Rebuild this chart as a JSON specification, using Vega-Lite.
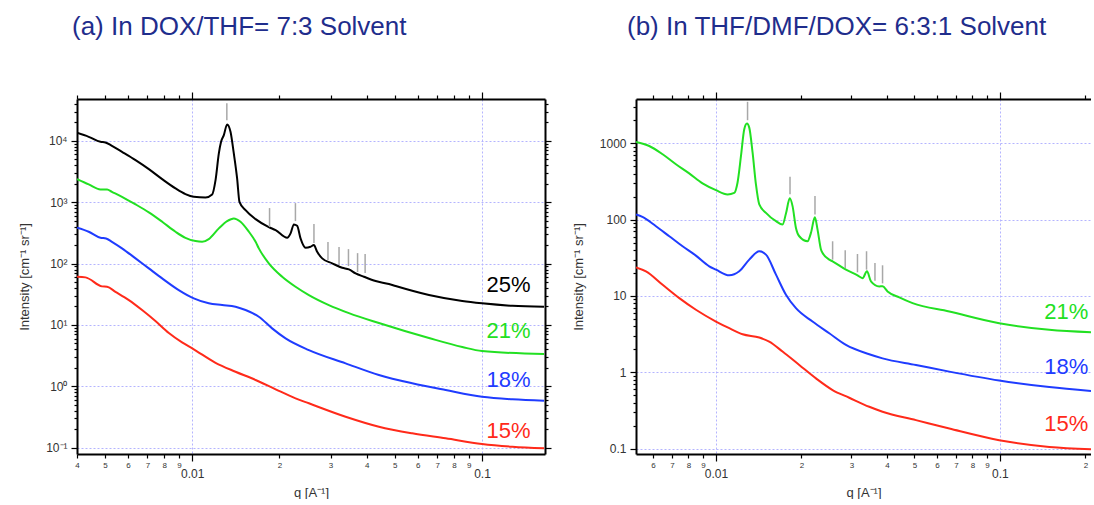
{
  "$schema": "https://vega.github.io/schema/vega-lite/v6.json",
  "background": "white",
  "padding": {"left": 18, "top": 14, "right": 0, "bottom": 0},
  "spacing": 20,
  "config": {
    "view": {"stroke": null},
    "font": "Liberation Sans",
    "axis": {"domainColor": "#000", "domainWidth": 2, "tickColor": "#000", "tickWidth": 1.2, "labelColor": "#333", "labelFont": "Liberation Sans", "titleFont": "Liberation Sans", "titleFontWeight": "normal", "titleColor": "#333", "labelOverlap": false, "labelFlush": false, "labelBound": false, "gridDash": [2, 2], "gridColor": "#b4b4ff", "gridWidth": 1}
  },
  "datasets": {
    "a": [
      {"q": 0.004, "I": 13500, "s": "25%"}, {"q": 0.00439, "I": 11620, "s": "25%"}, {"q": 0.00482, "I": 9630, "s": "25%"}, {"q": 0.00501, "I": 9420, "s": "25%"}, {"q": 0.00528, "I": 8290, "s": "25%"}, {"q": 0.00572, "I": 6620, "s": "25%"}, {"q": 0.00637, "I": 4850, "s": "25%"}, {"q": 0.00708, "I": 3460, "s": "25%"}, {"q": 0.00787, "I": 2378, "s": "25%"}, {"q": 0.00875, "I": 1678, "s": "25%"}, {"q": 0.00947, "I": 1355, "s": "25%"}, {"q": 0.01012, "I": 1225, "s": "25%"}, {"q": 0.01111, "I": 1197, "s": "25%"}, {"q": 0.01171, "I": 1340, "s": "25%"}, {"q": 0.01203, "I": 2291, "s": "25%"}, {"q": 0.01235, "I": 6235, "s": "25%"}, {"q": 0.01257, "I": 9630, "s": "25%"}, {"q": 0.01285, "I": 12380, "s": "25%"}, {"q": 0.01319, "I": 18500, "s": "25%"}, {"q": 0.01355, "I": 14020, "s": "25%"}, {"q": 0.01391, "I": 6235, "s": "25%"}, {"q": 0.01428, "I": 2441, "s": "25%"}, {"q": 0.01455, "I": 1015, "s": "25%"}, {"q": 0.01527, "I": 743, "s": "25%"}, {"q": 0.01654, "I": 530, "s": "25%"}, {"q": 0.01837, "I": 393, "s": "25%"}, {"q": 0.01939, "I": 351, "s": "25%"}, {"q": 0.02126, "I": 263, "s": "25%"}, {"q": 0.02184, "I": 310, "s": "25%"}, {"q": 0.02242, "I": 435, "s": "25%"}, {"q": 0.02301, "I": 413, "s": "25%"}, {"q": 0.02364, "I": 257, "s": "25%"}, {"q": 0.0246, "I": 181, "s": "25%"}, {"q": 0.0256, "I": 188, "s": "25%"}, {"q": 0.02628, "I": 200, "s": "25%"}, {"q": 0.02698, "I": 156, "s": "25%"}, {"q": 0.02808, "I": 121.5, "s": "25%"}, {"q": 0.03041, "I": 100.8, "s": "25%"}, {"q": 0.03292, "I": 85.4, "s": "25%"}, {"q": 0.03473, "I": 80.4, "s": "25%"}, {"q": 0.03662, "I": 69.2, "s": "25%"}, {"q": 0.03912, "I": 61.0, "s": "25%"}, {"q": 0.04294, "I": 51.9, "s": "25%"}, {"q": 0.04773, "I": 46.4, "s": "25%"}, {"q": 0.05034, "I": 43.0, "s": "25%"}, {"q": 0.0656, "I": 30.7, "s": "25%"}, {"q": 0.0855, "I": 24.5, "s": "25%"}, {"q": 0.1, "I": 22.5, "s": "25%"}, {"q": 0.1273, "I": 20.5, "s": "25%"}, {"q": 0.1637, "I": 19.8, "s": "25%"},
      {"q": 0.004, "I": 2378, "s": "21%"}, {"q": 0.00439, "I": 1949, "s": "21%"}, {"q": 0.00482, "I": 1616, "s": "21%"}, {"q": 0.00508, "I": 1616, "s": "21%"}, {"q": 0.00528, "I": 1477, "s": "21%"}, {"q": 0.00572, "I": 1225, "s": "21%"}, {"q": 0.00637, "I": 921, "s": "21%"}, {"q": 0.00708, "I": 682, "s": "21%"}, {"q": 0.00787, "I": 480, "s": "21%"}, {"q": 0.00875, "I": 330, "s": "21%"}, {"q": 0.00947, "I": 263, "s": "21%"}, {"q": 0.01026, "I": 232.5, "s": "21%"}, {"q": 0.01081, "I": 226.5, "s": "21%"}, {"q": 0.0114, "I": 250.6, "s": "21%"}, {"q": 0.01235, "I": 374.5, "s": "21%"}, {"q": 0.01319, "I": 492, "s": "21%"}, {"q": 0.01391, "I": 545, "s": "21%"}, {"q": 0.01467, "I": 480, "s": "21%"}, {"q": 0.01568, "I": 330, "s": "21%"}, {"q": 0.01654, "I": 226.5, "s": "21%"}, {"q": 0.01697, "I": 177, "s": "21%"}, {"q": 0.01837, "I": 100.8, "s": "21%"}, {"q": 0.02043, "I": 61.0, "s": "21%"}, {"q": 0.02272, "I": 41.9, "s": "21%"}, {"q": 0.02526, "I": 30.7, "s": "21%"}, {"q": 0.0296, "I": 21.1, "s": "21%"}, {"q": 0.03473, "I": 15.6, "s": "21%"}, {"q": 0.04407, "I": 10.74, "s": "21%"}, {"q": 0.0656, "I": 6.12, "s": "21%"}, {"q": 0.0855, "I": 4.37, "s": "21%"}, {"q": 0.1, "I": 3.76, "s": "21%"}, {"q": 0.1637, "I": 3.36, "s": "21%"},
      {"q": 0.004, "I": 383, "s": "18%"}, {"q": 0.00439, "I": 330, "s": "18%"}, {"q": 0.00482, "I": 263, "s": "18%"}, {"q": 0.00504, "I": 257, "s": "18%"}, {"q": 0.00528, "I": 226.5, "s": "18%"}, {"q": 0.00572, "I": 177, "s": "18%"}, {"q": 0.00637, "I": 121.5, "s": "18%"}, {"q": 0.00708, "I": 83.5, "s": "18%"}, {"q": 0.00787, "I": 57.4, "s": "18%"}, {"q": 0.00898, "I": 37.0, "s": "18%"}, {"q": 0.01012, "I": 27.1, "s": "18%"}, {"q": 0.0114, "I": 22.5, "s": "18%"}, {"q": 0.01268, "I": 21.1, "s": "18%"}, {"q": 0.0141, "I": 19.8, "s": "18%"}, {"q": 0.01527, "I": 17.5, "s": "18%"}, {"q": 0.01697, "I": 13.6, "s": "18%"}, {"q": 0.01886, "I": 8.8, "s": "18%"}, {"q": 0.02099, "I": 6.05, "s": "18%"}, {"q": 0.02526, "I": 3.9, "s": "18%"}, {"q": 0.03382, "I": 2.37, "s": "18%"}, {"q": 0.04407, "I": 1.53, "s": "18%"}, {"q": 0.05743, "I": 1.12, "s": "18%"}, {"q": 0.07491, "I": 0.87, "s": "18%"}, {"q": 0.1, "I": 0.677, "s": "18%"}, {"q": 0.1273, "I": 0.614, "s": "18%"}, {"q": 0.1637, "I": 0.583, "s": "18%"},
      {"q": 0.004, "I": 61.0, "s": "15%"}, {"q": 0.00428, "I": 59.6, "s": "15%"}, {"q": 0.00488, "I": 42.5, "s": "15%"}, {"q": 0.00508, "I": 41.9, "s": "15%"}, {"q": 0.00543, "I": 34.7, "s": "15%"}, {"q": 0.00604, "I": 25.4, "s": "15%"}, {"q": 0.00671, "I": 17.5, "s": "15%"}, {"q": 0.00746, "I": 11.6, "s": "15%"}, {"q": 0.0083, "I": 7.4, "s": "15%"}, {"q": 0.00922, "I": 5.2, "s": "15%"}, {"q": 0.01012, "I": 4.01, "s": "15%"}, {"q": 0.01203, "I": 2.42, "s": "15%"}, {"q": 0.0141, "I": 1.73, "s": "15%"}, {"q": 0.01654, "I": 1.27, "s": "15%"}, {"q": 0.01939, "I": 0.894, "s": "15%"}, {"q": 0.02272, "I": 0.638, "s": "15%"}, {"q": 0.02526, "I": 0.529, "s": "15%"}, {"q": 0.03382, "I": 0.32, "s": "15%"}, {"q": 0.04407, "I": 0.22, "s": "15%"}, {"q": 0.05743, "I": 0.1716, "s": "15%"}, {"q": 0.07491, "I": 0.1422, "s": "15%"}, {"q": 0.1, "I": 0.1149, "s": "15%"}, {"q": 0.1273, "I": 0.1038, "s": "15%"}, {"q": 0.1637, "I": 0.0978, "s": "15%"}
    ],
    "b": [
      {"q": 0.00523, "I": 1040, "s": "21%"}, {"q": 0.00582, "I": 921, "s": "21%"}, {"q": 0.00649, "I": 717, "s": "21%"}, {"q": 0.00723, "I": 530, "s": "21%"}, {"q": 0.00805, "I": 403, "s": "21%"}, {"q": 0.00897, "I": 298, "s": "21%"}, {"q": 0.01, "I": 243, "s": "21%"}, {"q": 0.01099, "I": 214, "s": "21%"}, {"q": 0.0116, "I": 224, "s": "21%"}, {"q": 0.01191, "I": 304, "s": "21%"}, {"q": 0.01225, "I": 681, "s": "21%"}, {"q": 0.01258, "I": 1528, "s": "21%"}, {"q": 0.01286, "I": 1809, "s": "21%"}, {"q": 0.0131, "I": 1603, "s": "21%"}, {"q": 0.01346, "I": 752, "s": "21%"}, {"q": 0.01383, "I": 289, "s": "21%"}, {"q": 0.01421, "I": 158, "s": "21%"}, {"q": 0.015, "I": 122.5, "s": "21%"}, {"q": 0.01627, "I": 95.3, "s": "21%"}, {"q": 0.01716, "I": 86.2, "s": "21%"}, {"q": 0.01764, "I": 120, "s": "21%"}, {"q": 0.0182, "I": 190, "s": "21%"}, {"q": 0.01861, "I": 150, "s": "21%"}, {"q": 0.01913, "I": 77.8, "s": "21%"}, {"q": 0.01965, "I": 60.5, "s": "21%"}, {"q": 0.02101, "I": 52, "s": "21%"}, {"q": 0.0216, "I": 66.9, "s": "21%"}, {"q": 0.0223, "I": 107, "s": "21%"}, {"q": 0.02279, "I": 74, "s": "21%"}, {"q": 0.02343, "I": 40.5, "s": "21%"}, {"q": 0.02374, "I": 36.5, "s": "21%"}, {"q": 0.02506, "I": 29.9, "s": "21%"}, {"q": 0.02574, "I": 28.4, "s": "21%"}, {"q": 0.02869, "I": 22.1, "s": "21%"}, {"q": 0.03152, "I": 18.6, "s": "21%"}, {"q": 0.03283, "I": 17.1, "s": "21%"}, {"q": 0.03402, "I": 21.0, "s": "21%"}, {"q": 0.03514, "I": 15.5, "s": "21%"}, {"q": 0.03758, "I": 13.3, "s": "21%"}, {"q": 0.0386, "I": 13.4, "s": "21%"}, {"q": 0.0402, "I": 11.46, "s": "21%"}, {"q": 0.04421, "I": 9.56, "s": "21%"}, {"q": 0.04924, "I": 8.04, "s": "21%"}, {"q": 0.06632, "I": 6.26, "s": "21%"}, {"q": 0.0994, "I": 4.39, "s": "21%"}, {"q": 0.1492, "I": 3.6, "s": "21%"}, {"q": 0.2092, "I": 3.34, "s": "21%"},
      {"q": 0.00523, "I": 116.7, "s": "18%"}, {"q": 0.00551, "I": 108.5, "s": "18%"}, {"q": 0.00615, "I": 81.9, "s": "18%"}, {"q": 0.00685, "I": 60.5, "s": "18%"}, {"q": 0.00763, "I": 44.7, "s": "18%"}, {"q": 0.0085, "I": 33.7, "s": "18%"}, {"q": 0.00947, "I": 24.4, "s": "18%"}, {"q": 0.01, "I": 22.1, "s": "18%"}, {"q": 0.01114, "I": 18.6, "s": "18%"}, {"q": 0.01208, "I": 21.0, "s": "18%"}, {"q": 0.0131, "I": 29.9, "s": "18%"}, {"q": 0.01421, "I": 38.4, "s": "18%"}, {"q": 0.015, "I": 34.8, "s": "18%"}, {"q": 0.01627, "I": 19.0, "s": "18%"}, {"q": 0.01764, "I": 10.37, "s": "18%"}, {"q": 0.01913, "I": 6.91, "s": "18%"}, {"q": 0.02188, "I": 4.62, "s": "18%"}, {"q": 0.02506, "I": 3.24, "s": "18%"}, {"q": 0.02869, "I": 2.28, "s": "18%"}, {"q": 0.03466, "I": 1.72, "s": "18%"}, {"q": 0.0386, "I": 1.52, "s": "18%"}, {"q": 0.05061, "I": 1.247, "s": "18%"}, {"q": 0.06632, "I": 1.02, "s": "18%"}, {"q": 0.0994, "I": 0.78, "s": "18%"}, {"q": 0.1492, "I": 0.64, "s": "18%"}, {"q": 0.2092, "I": 0.57, "s": "18%"},
      {"q": 0.00523, "I": 23.7, "s": "15%"}, {"q": 0.00567, "I": 21.0, "s": "15%"}, {"q": 0.00649, "I": 14.0, "s": "15%"}, {"q": 0.00743, "I": 9.36, "s": "15%"}, {"q": 0.0085, "I": 6.59, "s": "15%"}, {"q": 0.01, "I": 4.62, "s": "15%"}, {"q": 0.01114, "I": 3.78, "s": "15%"}, {"q": 0.01241, "I": 3.15, "s": "15%"}, {"q": 0.01421, "I": 2.85, "s": "15%"}, {"q": 0.0154, "I": 2.52, "s": "15%"}, {"q": 0.01716, "I": 1.87, "s": "15%"}, {"q": 0.01965, "I": 1.247, "s": "15%"}, {"q": 0.0225, "I": 0.831, "s": "15%"}, {"q": 0.02574, "I": 0.585, "s": "15%"}, {"q": 0.02947, "I": 0.464, "s": "15%"}, {"q": 0.03466, "I": 0.353, "s": "15%"}, {"q": 0.0386, "I": 0.304, "s": "15%"}, {"q": 0.05061, "I": 0.236, "s": "15%"}, {"q": 0.06632, "I": 0.183, "s": "15%"}, {"q": 0.0994, "I": 0.129, "s": "15%"}, {"q": 0.1492, "I": 0.1053, "s": "15%"}, {"q": 0.2092, "I": 0.0982, "s": "15%"}
    ],
    "ma": [
      {"q": 0.01316, "I1": 21700, "I2": 41100}, {"q": 0.01848, "I1": 393, "I2": 802}, {"q": 0.0227, "I1": 492, "I2": 966}, {"q": 0.0263, "I1": 216, "I2": 440}, {"q": 0.0294, "I1": 114, "I2": 224}, {"q": 0.0321, "I1": 94.6, "I2": 186}, {"q": 0.0346, "I1": 91, "I2": 172}, {"q": 0.0372, "I1": 72.8, "I2": 148}, {"q": 0.0395, "I1": 70, "I2": 143}
    ],
    "mb": [
      {"q": 0.01292, "I1": 2005, "I2": 3490}, {"q": 0.01823, "I1": 214, "I2": 364}, {"q": 0.02232, "I1": 117, "I2": 203}, {"q": 0.02575, "I1": 29.9, "I2": 52}, {"q": 0.02852, "I1": 23.2, "I2": 39.6}, {"q": 0.0315, "I1": 20.4, "I2": 35.4}, {"q": 0.0339, "I1": 22.1, "I2": 38.5}, {"q": 0.0363, "I1": 15.8, "I2": 27}, {"q": 0.0386, "I1": 14.6, "I2": 25.2}
    ],
    "la": [
      {"q": 0.147, "I": 44.7, "s": "25%"}, {"q": 0.147, "I": 7.9, "s": "21%"}, {"q": 0.147, "I": 1.27, "s": "18%"}, {"q": 0.147, "I": 0.186, "s": "15%"}
    ],
    "lb": [
      {"q": 0.2047, "I": 6.25, "s": "21%"}, {"q": 0.2047, "I": 1.19, "s": "18%"}, {"q": 0.2047, "I": 0.211, "s": "15%"}
    ]
  },
  "hconcat": [
    {
      "title": {"text": "(a) In DOX/THF= 7:3 Solvent", "anchor": "start", "frame": "group", "dx": -5, "fontSize": 26, "fontWeight": "normal", "color": "#1f2d8c", "baseline": "alphabetic", "offset": 30},
      "width": 468,
      "height": 355,
      "resolve": {"axis": {"x": "independent", "y": "independent"}},
      "layer": [
        {
          "data": {"name": "a"},
          "mark": {"type": "line", "strokeWidth": 2, "interpolate": "monotone", "clip": true},
          "encoding": {
            "x": {"field": "q", "type": "quantitative", "scale": {"type": "log", "domain": [0.004, 0.165], "nice": false},
              "axis": {"orient": "bottom", "values": [0.004, 0.005, 0.006, 0.007, 0.008, 0.009, 0.01, 0.02, 0.03, 0.04, 0.05, 0.06, 0.07, 0.08, 0.09, 0.1],
                "labelExpr": "datum.value === 0.01 ? '0.01' : datum.value === 0.1 ? '0.1' : format(datum.value / pow(10, floor(log(datum.value) / LN10 + 1e-9)), '.0f')",
                "labelFontSize": {"condition": {"test": "datum.value === 0.01 || datum.value === 0.1", "value": 12}, "value": 8},
                "labelPadding": {"condition": {"test": "datum.value === 0.01 || datum.value === 0.1", "value": 7}, "value": 3},
                "tickSize": {"condition": {"test": "datum.value === 0.01 || datum.value === 0.1", "value": 7}, "value": 4},
                "grid": true,
                "gridOpacity": {"condition": {"test": "datum.value === 0.01 || datum.value === 0.1", "value": 1}, "value": 0},
                "title": "q [A⁻¹]", "titleFontSize": 13, "titlePadding": 7}},
            "y": {"field": "I", "type": "quantitative", "scale": {"type": "log", "domain": [0.079, 48000], "nice": false},
              "axis": {"orient": "left", "values": [0.1, 0.2, 0.3, 0.4, 0.5, 0.6, 0.7, 0.8, 0.9, 1, 2, 3, 4, 5, 6, 7, 8, 9, 10, 20, 30, 40, 50, 60, 70, 80, 90, 100, 200, 300, 400, 500, 600, 700, 800, 900, 1000, 2000, 3000, 4000, 5000, 6000, 7000, 8000, 9000, 10000, 20000, 30000, 40000],
                "labelExpr": "datum.value === 0.1 ? '10⁻¹' : datum.value === 1 ? '10⁰' : datum.value === 10 ? '10¹' : datum.value === 100 ? '10²' : datum.value === 1000 ? '10³' : datum.value === 10000 ? '10⁴' : ''",
                "labelFontSize": 12, "labelPadding": 4,
                "tickSize": {"condition": {"test": "indexof([0.1, 1, 10, 100, 1000, 10000], datum.value) >= 0", "value": 6}, "value": 3},
                "grid": true,
                "gridOpacity": {"condition": {"test": "indexof([0.1, 1, 10, 100, 1000, 10000], datum.value) >= 0", "value": 1}, "value": 0},
                "title": "Intensity [cm⁻¹ sr⁻¹]", "titleFontSize": 13, "titlePadding": 14}},
            "color": {"field": "s", "type": "nominal", "scale": {"domain": ["25%", "21%", "18%", "15%"], "range": ["#000000", "#22e022", "#1f3cff", "#ff2a1a"]}, "legend": null}
          }
        },
        {
          "data": {"name": "ma"},
          "mark": {"type": "rule", "color": "#a8a8a8", "strokeWidth": 1.5},
          "encoding": {
            "x": {"field": "q", "type": "quantitative", "scale": {"type": "log", "domain": [0.004, 0.165], "nice": false},
              "axis": {"orient": "top", "values": [0.004, 0.005, 0.006, 0.007, 0.008, 0.009, 0.01, 0.02, 0.03, 0.04, 0.05, 0.06, 0.07, 0.08, 0.09, 0.1], "labels": false, "title": null, "grid": false,
                "tickSize": {"condition": {"test": "datum.value === 0.01 || datum.value === 0.1", "value": 7}, "value": 4}}},
            "y": {"field": "I1", "type": "quantitative", "scale": {"type": "log", "domain": [0.079, 48000], "nice": false},
              "axis": {"orient": "right", "values": [0.1, 0.2, 0.3, 0.4, 0.5, 0.6, 0.7, 0.8, 0.9, 1, 2, 3, 4, 5, 6, 7, 8, 9, 10, 20, 30, 40, 50, 60, 70, 80, 90, 100, 200, 300, 400, 500, 600, 700, 800, 900, 1000, 2000, 3000, 4000, 5000, 6000, 7000, 8000, 9000, 10000, 20000, 30000, 40000], "labels": false, "title": null, "grid": false,
                "tickSize": {"condition": {"test": "indexof([0.1, 1, 10, 100, 1000, 10000], datum.value) >= 0", "value": 6}, "value": 3}}},
            "y2": {"field": "I2"}
          }
        },
        {
          "data": {"name": "la"},
          "mark": {"type": "text", "align": "right", "baseline": "middle", "fontSize": 22, "font": "Liberation Sans"},
          "encoding": {
            "x": {"field": "q", "type": "quantitative", "scale": {"type": "log", "domain": [0.004, 0.165], "nice": false}, "axis": null},
            "y": {"field": "I", "type": "quantitative", "scale": {"type": "log", "domain": [0.079, 48000], "nice": false}, "axis": null},
            "text": {"field": "s"},
            "color": {"field": "s", "type": "nominal", "scale": {"domain": ["25%", "21%", "18%", "15%"], "range": ["#000000", "#22e022", "#1f3cff", "#ff2a1a"]}, "legend": null}
          }
        }
      ]
    },
    {
      "title": {"text": "(b) In THF/DMF/DOX= 6:3:1 Solvent", "anchor": "start", "frame": "group", "dx": -9, "fontSize": 26, "fontWeight": "normal", "color": "#1f2d8c", "baseline": "alphabetic", "offset": 30},
      "width": 455,
      "height": 355,
      "resolve": {"axis": {"x": "independent", "y": "independent"}},
      "layer": [
        {
          "data": {"name": "b"},
          "mark": {"type": "line", "strokeWidth": 2, "interpolate": "monotone", "clip": true},
          "encoding": {
            "x": {"field": "q", "type": "quantitative", "scale": {"type": "log", "domain": [0.00523, 0.2092], "nice": false},
              "axis": {"orient": "bottom", "values": [0.006, 0.007, 0.008, 0.009, 0.01, 0.02, 0.03, 0.04, 0.05, 0.06, 0.07, 0.08, 0.09, 0.1, 0.2],
                "labelExpr": "datum.value === 0.01 ? '0.01' : datum.value === 0.1 ? '0.1' : format(datum.value / pow(10, floor(log(datum.value) / LN10 + 1e-9)), '.0f')",
                "labelFontSize": {"condition": {"test": "datum.value === 0.01 || datum.value === 0.1", "value": 12}, "value": 8},
                "labelPadding": {"condition": {"test": "datum.value === 0.01 || datum.value === 0.1", "value": 7}, "value": 3},
                "tickSize": {"condition": {"test": "datum.value === 0.01 || datum.value === 0.1", "value": 7}, "value": 4},
                "grid": true,
                "gridOpacity": {"condition": {"test": "datum.value === 0.01 || datum.value === 0.1", "value": 1}, "value": 0},
                "title": "q [A⁻¹]", "titleFontSize": 13, "titlePadding": 7}},
            "y": {"field": "I", "type": "quantitative", "scale": {"type": "log", "domain": [0.085, 3800], "nice": false},
              "axis": {"orient": "left", "values": [0.1, 0.2, 0.3, 0.4, 0.5, 0.6, 0.7, 0.8, 0.9, 1, 2, 3, 4, 5, 6, 7, 8, 9, 10, 20, 30, 40, 50, 60, 70, 80, 90, 100, 200, 300, 400, 500, 600, 700, 800, 900, 1000, 2000, 3000],
                "labelExpr": "indexof([0.1, 1, 10, 100, 1000], datum.value) >= 0 ? '' + datum.value : ''",
                "labelFontSize": 12, "labelPadding": 4,
                "tickSize": {"condition": {"test": "indexof([0.1, 1, 10, 100, 1000], datum.value) >= 0", "value": 6}, "value": 3},
                "grid": true,
                "gridOpacity": {"condition": {"test": "indexof([0.1, 1, 10, 100, 1000], datum.value) >= 0", "value": 1}, "value": 0},
                "title": "Intensity [cm⁻¹ sr⁻¹]", "titleFontSize": 13, "titlePadding": 14}},
            "color": {"field": "s", "type": "nominal", "scale": {"domain": ["25%", "21%", "18%", "15%"], "range": ["#000000", "#22e022", "#1f3cff", "#ff2a1a"]}, "legend": null}
          }
        },
        {
          "data": {"name": "mb"},
          "mark": {"type": "rule", "color": "#a8a8a8", "strokeWidth": 1.5},
          "encoding": {
            "x": {"field": "q", "type": "quantitative", "scale": {"type": "log", "domain": [0.00523, 0.2092], "nice": false},
              "axis": {"orient": "top", "values": [0.006, 0.007, 0.008, 0.009, 0.01, 0.02, 0.03, 0.04, 0.05, 0.06, 0.07, 0.08, 0.09, 0.1, 0.2], "labels": false, "title": null, "grid": false,
                "tickSize": {"condition": {"test": "datum.value === 0.01 || datum.value === 0.1", "value": 7}, "value": 4}}},
            "y": {"field": "I1", "type": "quantitative", "scale": {"type": "log", "domain": [0.085, 3800], "nice": false}, "axis": null},
            "y2": {"field": "I2"}
          }
        },
        {
          "data": {"name": "lb"},
          "mark": {"type": "text", "align": "right", "baseline": "middle", "fontSize": 22, "font": "Liberation Sans"},
          "encoding": {
            "x": {"field": "q", "type": "quantitative", "scale": {"type": "log", "domain": [0.00523, 0.2092], "nice": false}, "axis": null},
            "y": {"field": "I", "type": "quantitative", "scale": {"type": "log", "domain": [0.085, 3800], "nice": false}, "axis": null},
            "text": {"field": "s"},
            "color": {"field": "s", "type": "nominal", "scale": {"domain": ["25%", "21%", "18%", "15%"], "range": ["#000000", "#22e022", "#1f3cff", "#ff2a1a"]}, "legend": null}
          }
        }
      ]
    }
  ]
}
